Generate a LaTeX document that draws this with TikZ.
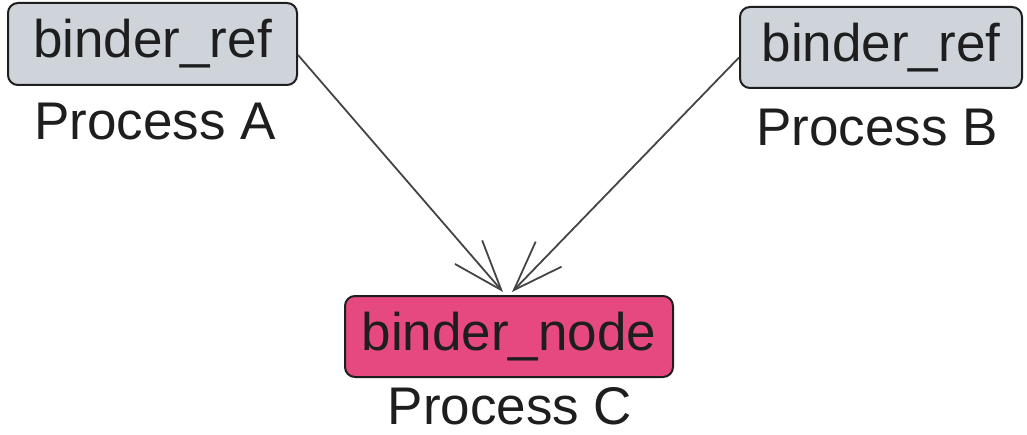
\documentclass[tikz,border=0pt]{standalone}
\usepackage{fontspec}
\setmainfont{Liberation Sans}
\usetikzlibrary{arrows.meta}
\definecolor{refgray}{HTML}{CED4DA}
\definecolor{nodepink}{HTML}{E64980}
\definecolor{edgegray}{HTML}{444444}
\definecolor{inkdark}{HTML}{1E1E1E}
\begin{document}
\begin{tikzpicture}[x=1pt,y=1pt,
  box/.style={draw=inkdark,line width=2pt,rounded corners=10pt,inner sep=0pt,
    font=\fontsize{53}{58}\selectfont,text=inkdark},
  caption/.style={font=\fontsize{53}{58}\selectfont,text=inkdark,inner sep=0pt},
  link/.style={draw=edgegray,line width=1.8pt,-{Straight Barb[length=50pt,width=36pt,line width=1.8pt]}}]
\useasboundingbox (0,0) rectangle (1027,434);
\node[box,fill=refgray,minimum width=289pt,minimum height=82pt] (A) at (152.5,390) {binder\_ref};
\node[box,fill=refgray,minimum width=282pt,minimum height=81pt] (B) at (881,386.5) {binder\_ref};
\node[box,fill=nodepink,minimum width=328pt,minimum height=81pt] (C) at (509,97.5) {binder\_node};
\node[caption] (la) at (155,312) {Process A};
\node[caption] (lb) at (877,306) {Process B};
\node[caption] (lc) at (510,28) {Process C};
\draw[link] ([yshift=-11pt]A.east) -- ([xshift=-6pt,yshift=3pt]C.north);
\draw[link] ([yshift=-10pt]B.west) -- ([xshift=3pt,yshift=3pt]C.north);
\end{tikzpicture}
\end{document}
